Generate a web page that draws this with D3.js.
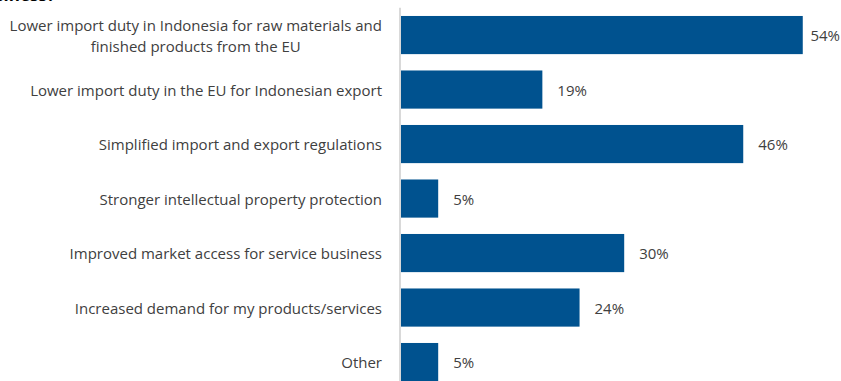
<!DOCTYPE html>
<html>
<head>
<meta charset="utf-8">
<script src="https://cdn.jsdelivr.net/npm/d3@7"></script>
<style>
  html, body { margin: 0; padding: 0; background: #fff; overflow: hidden; }
  svg { display: block; }
</style>
</head>
<body>
<svg id="chart" width="841" height="381"></svg>
<script>
// Benefits expected from the agreement (share of respondents, %)
const categories = [
  ["Lower import duty in Indonesia for raw materials and", "finished products from the EU"],
  ["Lower import duty in the EU for Indonesian export"],
  ["Simplified import and export regulations"],
  ["Stronger intellectual property protection"],
  ["Improved market access for service business"],
  ["Increased demand for my products/services"],
  ["Other"]
];
const values = [54, 19, 46, 5, 30, 24, 5];
const titleText = "business?";

const W = 841, H = 381;
const svg = d3.select("#chart");
const font = "'Open Sans', 'Noto Sans', sans-serif";
const textColor = "#404040";
const barColor = "#00528F";
const fontSize = 15;

const keys = categories.map((c, i) => i);

const y = d3.scaleBand()
  .domain(keys)
  .range([7.8, 389.3])
  .paddingInner(0.3)
  .paddingOuter(0.15);

const x = d3.scaleLinear()
  .domain([0, 60])
  .range([401, 401 + 60 * 7.44]);

// Title (runs off the top edge)
svg.append("text")
  .attr("x", 55).attr("y", 0.5)
  .attr("text-anchor", "end")
  .attr("font-family", font)
  .attr("font-weight", "bold")
  .attr("font-size", 17)
  .attr("fill", "#000")
  .text(titleText);

// Bars
svg.append("g").selectAll("rect")
  .data(values)
  .join("rect")
  .attr("x", x(0))
  .attr("y", (d, i) => y(i))
  .attr("width", d => x(d) - x(0))
  .attr("height", y.bandwidth())
  .attr("fill", barColor);

// Category axis line
svg.append("line")
  .attr("x1", 400).attr("x2", 400)
  .attr("y1", y.range()[0]).attr("y2", H)
  .attr("stroke", "#d9d9d9")
  .attr("stroke-width", 2);

// Category labels: block right-aligned to the axis, lines centred within it
const labelRight = 382;
const lineH = 21;
const labelG = svg.append("g");
categories.forEach((lines, i) => {
  const g = labelG.append("g");
  const cy = y(i) + y.bandwidth() / 2;
  const texts = lines.map((ln, j) => g.append("text")
    .attr("font-family", font)
    .attr("font-size", fontSize)
    .attr("fill", textColor)
    .attr("dominant-baseline", "central")
    .attr("y", cy + (j - (lines.length - 1) / 2) * lineH)
    .text(ln));
  const widths = texts.map(t => t.node().getComputedTextLength());
  const maxW = d3.max(widths);
  const centre = labelRight - maxW / 2;
  texts.forEach(t => t.attr("text-anchor", "middle").attr("x", centre));
});

// Value labels
svg.append("g").selectAll("text")
  .data(values)
  .join("text")
  .attr("font-family", font)
  .attr("font-size", fontSize)
  .attr("fill", textColor)
  .attr("dominant-baseline", "central")
  .attr("y", (d, i) => y(i) + y.bandwidth() / 2)
  .text(d => d + "%")
  .each(function(d) {
    const w = this.getComputedTextLength();
    const px = Math.min(x(d) + 15, W - 1 - w);
    d3.select(this).attr("x", px);
  });
</script>
</body>
</html>
